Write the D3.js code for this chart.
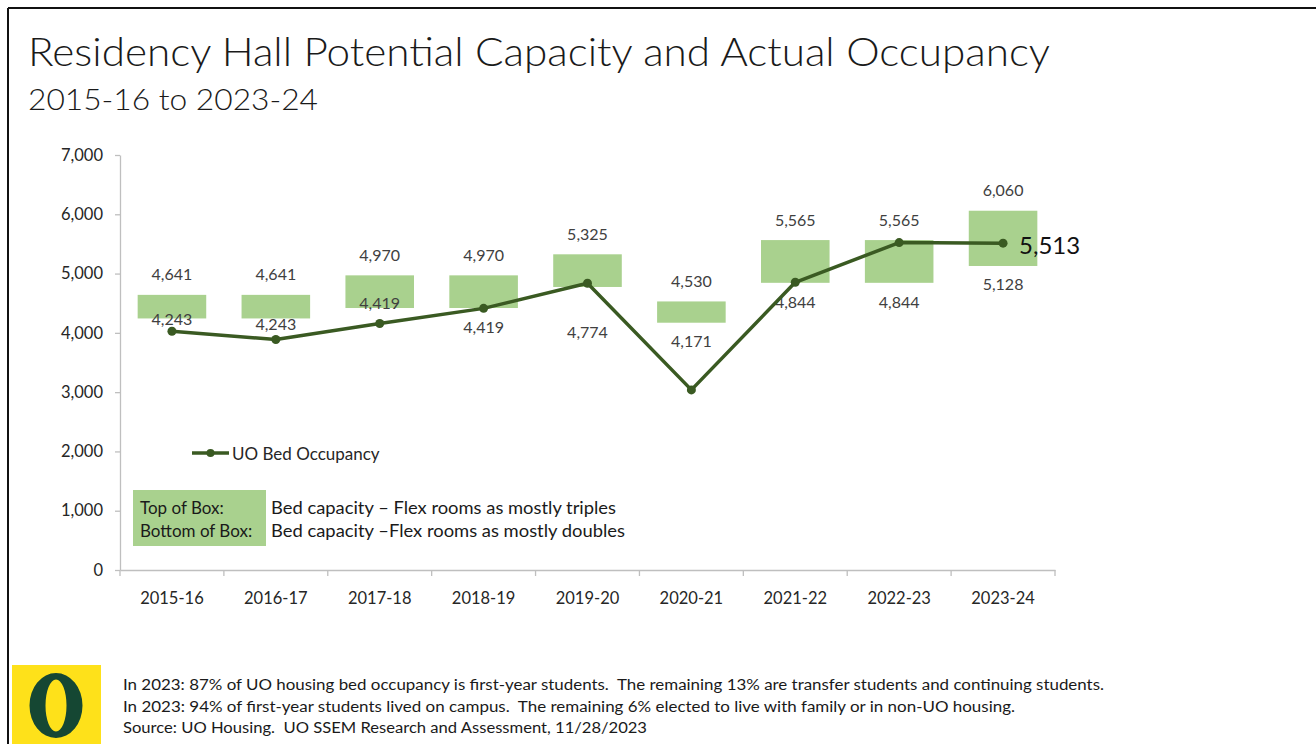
<!DOCTYPE html>
<html>
<head>
<meta charset="utf-8">
<script src="https://cdn.jsdelivr.net/npm/d3@7"></script>
<style>
  html, body { margin: 0; padding: 0; background: #fff; }
  svg { display: block; font-family: Lato, "Open Sans", sans-serif; }
  svg text { white-space: pre; }
</style>
</head>
<body>
<svg id="chart" width="1316" height="744"></svg>
<script>
// ---------- DATA ----------
const categories = ["2015-16","2016-17","2017-18","2018-19","2019-20","2020-21","2021-22","2022-23","2023-24"];
const capacityTriples = [4641, 4641, 4970, 4970, 5325, 4530, 5565, 5565, 6060];   // top of box
const capacityDoubles = [4243, 4243, 4419, 4419, 4774, 4171, 4844, 4844, 5128];   // bottom of box
const occupancy = [4028, 3887, 4158, 4413, 4836, 3038, 4853, 5522, 5513];         // UO Bed Occupancy
const yTicks = [0, 1000, 2000, 3000, 4000, 5000, 6000, 7000];
const titleText = "Residency Hall Potential Capacity and Actual Occupancy";
const subtitleText = "2015-16 to 2023-24";
const legendLine = "UO Bed Occupancy";
const boxLegendKeys = ["Top of Box:", "Bottom of Box:"];
const boxLegendDesc = ["Bed capacity \u2013 Flex rooms as mostly triples", "Bed capacity \u2013Flex rooms as mostly doubles"];
const footnotes = [
  "In 2023: 87% of UO housing bed occupancy is first-year students.  The remaining 13% are transfer students and continuing students.",
  "In 2023: 94% of first-year students lived on campus.  The remaining 6% elected to live with family or in non-UO housing.",
  "Source: UO Housing.  UO SSEM Research and Assessment, 11/28/2023"
];

// ---------- STYLE ----------
const boxColor = "#a9d18e";
const lineColor = "#3a5a22";
const textColor = "#404040";
const svg = d3.select("#chart");

function fitWidth(sel, w) {
  const n = sel.node();
  const len = n.getComputedTextLength();
  if (len > 0) sel.attr("textLength", w).attr("lengthAdjust", "spacingAndGlyphs");
}

// frame
svg.append("line").attr("x1", 8).attr("x2", 1316).attr("y1", 8).attr("y2", 8).attr("stroke", "#111").attr("stroke-width", 2);
svg.append("line").attr("x1", 8).attr("x2", 8).attr("y1", 8).attr("y2", 744).attr("stroke", "#111").attr("stroke-width", 2);

// titles
const t1 = svg.append("text").attr("x", 28).attr("y", 66).attr("font-size", 39).attr("font-weight", 300)
  .attr("fill", "#1a1a1a").text(titleText);
fitWidth(t1, 1022);
const t2 = svg.append("text").attr("x", 28).attr("y", 110).attr("font-size", 30).attr("font-weight", 300)
  .attr("fill", "#1a1a1a").text(subtitleText);
fitWidth(t2, 290);

// ---------- SCALES ----------
const x = d3.scaleBand().domain(categories).range([120, 1055]).paddingInner(0.34).paddingOuter(0.17);
const y = d3.scaleLinear().domain([0, 7000]).range([570, 155]);
const cx = d => x(d) + x.bandwidth() / 2;

// y axis
const yAxis = svg.append("g").attr("transform", "translate(120,0)")
  .call(d3.axisLeft(y).tickValues(yTicks).tickSize(5).tickSizeOuter(0).tickPadding(12).tickFormat(d3.format(",")));
yAxis.select(".domain").attr("stroke", "#bfbfbf").attr("stroke-width", 1.3);
yAxis.selectAll(".tick line").attr("stroke", "#bfbfbf").attr("stroke-width", 1.3);
yAxis.selectAll(".tick text").attr("font-size", 16.5).attr("fill", "#262626").attr("font-family", "Lato, sans-serif");

// x axis
const xAxis = svg.append("g").attr("transform", "translate(0,570)")
  .call(d3.axisBottom(x).tickSize(0).tickSizeOuter(0).tickPadding(22));
xAxis.select(".domain").attr("stroke", "#bfbfbf").attr("stroke-width", 1.3);
xAxis.selectAll(".tick text").attr("font-size", 16.5).attr("fill", "#262626").attr("font-family", "Lato, sans-serif");
const bounds = d3.range(categories.length + 1).map(i => x.range()[0] + i * x.step());
xAxis.selectAll("line.bnd").data(bounds).join("line").attr("class", "bnd")
  .attr("x1", d => d).attr("x2", d => d).attr("y1", 0).attr("y2", 6)
  .attr("stroke", "#bfbfbf").attr("stroke-width", 1.3);

// ---------- BOXES ----------
svg.append("g").selectAll("rect").data(categories).join("rect")
  .attr("x", d => x(d))
  .attr("width", x.bandwidth())
  .attr("y", (d, i) => y(capacityTriples[i]))
  .attr("height", (d, i) => y(capacityDoubles[i]) - y(capacityTriples[i]))
  .attr("fill", boxColor);

// top labels
svg.append("g").selectAll("text").data(categories).join("text")
  .attr("x", d => cx(d)).attr("y", (d, i) => y(capacityTriples[i]) - 21)
  .attr("text-anchor", "middle").attr("dominant-baseline", "central")
  .attr("font-size", 16).attr("fill", textColor)
  .text((d, i) => d3.format(",")(capacityTriples[i]));

// bottom labels (nudged like the original to avoid the line)
const bottomNudge = [0, 5, -6, 18, 45, 18, 19, 19, 18];
svg.append("g").selectAll("text").data(categories).join("text")
  .attr("x", d => cx(d)).attr("y", (d, i) => y(capacityDoubles[i]) + bottomNudge[i])
  .attr("text-anchor", "middle").attr("dominant-baseline", "central")
  .attr("font-size", 16).attr("fill", textColor)
  .text((d, i) => d3.format(",")(capacityDoubles[i]));

// ---------- LINE ----------
const line = d3.line().x((d, i) => cx(categories[i])).y(d => y(d));
svg.append("path").datum(occupancy).attr("d", line)
  .attr("fill", "none").attr("stroke", lineColor).attr("stroke-width", 3.5).attr("stroke-linejoin", "round");
svg.append("g").selectAll("circle").data(occupancy).join("circle")
  .attr("cx", (d, i) => cx(categories[i])).attr("cy", d => y(d)).attr("r", 4.5).attr("fill", lineColor);

// last value label
const last = occupancy.length - 1;
svg.append("text").attr("x", cx(categories[last]) + 16).attr("y", y(occupancy[last]) + 1)
  .attr("dominant-baseline", "central").attr("font-size", 24).attr("fill", "#111")
  .text(d3.format(",")(occupancy[last]));

// ---------- LEGEND ----------
const lg = svg.append("g").attr("transform", "translate(192,453)");
lg.append("line").attr("x1", 0).attr("x2", 37).attr("y1", 0).attr("y2", 0).attr("stroke", lineColor).attr("stroke-width", 3.5);
lg.append("circle").attr("cx", 18.5).attr("cy", 0).attr("r", 4).attr("fill", lineColor);
lg.append("text").attr("x", 40).attr("y", 0).attr("dominant-baseline", "central")
  .attr("font-size", 17).attr("fill", "#262626").text(legendLine);

svg.append("rect").attr("x", 133).attr("y", 490).attr("width", 133).attr("height", 56).attr("fill", boxColor);
svg.append("g").selectAll("text").data(boxLegendKeys).join("text")
  .attr("x", 140).attr("y", (d, i) => 507 + i * 23).attr("dominant-baseline", "central")
  .attr("font-size", 17).attr("fill", "#1a1a1a").text(d => d);
svg.append("g").selectAll("text").data(boxLegendDesc).join("text")
  .attr("x", 271).attr("y", (d, i) => 507 + i * 23).attr("dominant-baseline", "central")
  .attr("font-size", 17).attr("fill", "#1a1a1a").text(d => d)
  .each(function(d, i) { fitWidth(d3.select(this), i === 0 ? 345 : 354); });

// ---------- FOOTER ----------
svg.append("rect").attr("x", 12).attr("y", 665).attr("width", 89).attr("height", 79).attr("fill", "#fee11a");
const ocx = 56, ocy = 705.5;
function ellipsePath(rx, ry) {
  return `M${ocx - rx},${ocy} a${rx},${ry} 0 1,0 ${2 * rx},0 a${rx},${ry} 0 1,0 ${-2 * rx},0 Z`;
}
svg.append("path").attr("d", ellipsePath(26.5, 32.5) + ellipsePath(10.5, 26))
  .attr("fill", "#154733").attr("fill-rule", "evenodd");

const footWidths = [981, 892, 524];
svg.append("g").selectAll("text").data(footnotes).join("text")
  .attr("x", 123).attr("y", (d, i) => 684 + i * 21.5).attr("dominant-baseline", "central")
  .attr("font-size", 15.5).attr("fill", "#1a1a1a").text(d => d)
  .each(function(d, i) { fitWidth(d3.select(this), footWidths[i]); });
</script>
</body>
</html>
